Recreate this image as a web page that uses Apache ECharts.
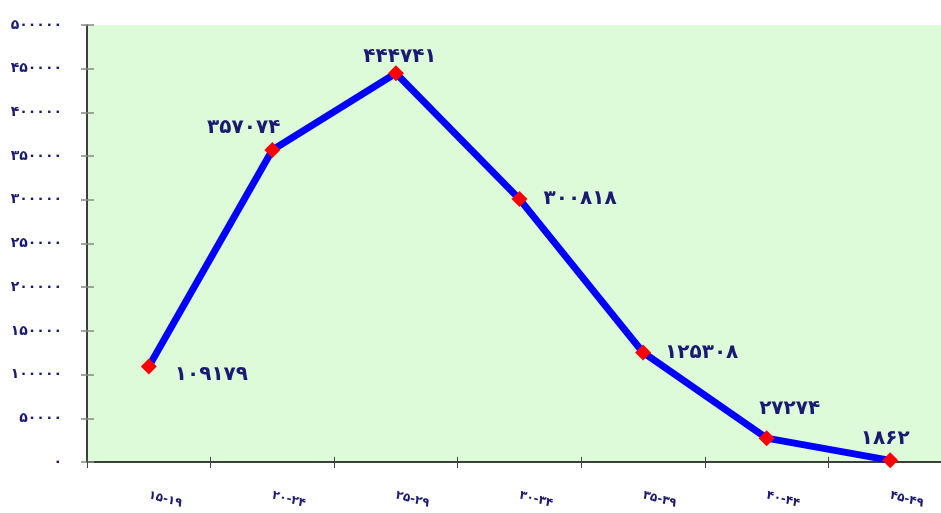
<!DOCTYPE html>
<html>
<head>
<meta charset="utf-8">
<script src="https://cdn.jsdelivr.net/npm/echarts@6/dist/echarts.min.js"></script>
<style>
  html, body { margin: 0; padding: 0; background: #fff; overflow: hidden; }
  #chart { width: 953px; height: 513px; }
</style>
</head>
<body>
<div id="chart"></div>
<script>
// گروه‌های سنی و مقادیر
const categories = ['۱۵-۱۹', '۲۰-۲۴', '۲۵-۲۹', '۳۰-۳۴', '۳۵-۳۹', '۴۰-۴۴', '۴۵-۴۹'];
const values = [109179, 357074, 444741, 300818, 125308, 27274, 1862];
const faDigits = '۰۱۲۳۴۵۶۷۸۹';

function toFa(n) {
    return String(n).replace(/[0-9]/g, d => faDigits[d]);
}

// label placement per point
const labelPos = [
    { position: 'right', distance: 18, offset: [0, 8] },
    { position: 'left', distance: -16, offset: [0, -22] },
    { position: 'top', distance: -2, offset: [4, 0] },
    { position: 'right', distance: 16, offset: [0, 0] },
    { position: 'right', distance: 14, offset: [0, 0] },
    { position: 'top', distance: 11, offset: [23, 0] },
    { position: 'top', distance: 4, offset: [-5, 0] }
];

const seriesData = values.map((v, i) => ({
    value: v,
    label: labelPos[i]
}));

const navy = '#1a1a72';
const myChart = echarts.init(document.getElementById('chart'));
myChart.setOption({
    animation: false,
    grid: {
        left: 87, right: 1, top: 25, bottom: 51,
        show: true, backgroundColor: '#ddfbd9', borderWidth: 0
    },
    xAxis: [{
        type: 'category',
        data: categories,
        boundaryGap: true,
        axisLine: { lineStyle: { color: '#000', width: 1.5 } },
        axisTick: { show: true, length: 6, lineStyle: { color: '#444' } },
        axisLabel: {
            rotate: -15, margin: 33, color: navy, fontSize: 12, fontWeight: 'bold',
            fontFamily: 'DejaVu Sans'
        },
        splitLine: { show: false }
    }, {
        type: 'category',
        data: categories,
        position: 'bottom',
        boundaryGap: true,
        axisLine: { show: false },
        axisTick: { show: true, inside: true, length: 5, lineStyle: { color: '#444' } },
        axisLabel: { show: false },
        splitLine: { show: false }
    }],
    yAxis: [{
        type: 'value',
        min: 0, max: 500000, interval: 50000,
        axisLine: { show: true, lineStyle: { color: '#000', width: 1.5 } },
        axisTick: { show: true, length: 6, lineStyle: { color: '#888', width: 1.5 } },
        axisLabel: {
            margin: 25, color: navy, fontSize: 14, fontWeight: 'bold',
            fontFamily: 'DejaVu Sans',
            padding: [0, 0, 7, 0],
            formatter: v => toFa(v)
        },
        splitLine: { show: false }
    }, {
        type: 'value',
        position: 'left',
        min: 0, max: 500000, interval: 50000,
        axisLine: { show: false },
        axisTick: { show: true, inside: true, length: 7, lineStyle: { color: '#888', width: 1.5 } },
        axisLabel: { show: false },
        splitLine: { show: false }
    }],
    series: [{
        type: 'line',
        data: seriesData,
        symbol: 'diamond',
        symbolSize: 16,
        itemStyle: { color: '#ff0000' },
        lineStyle: { color: '#0000ff', width: 7 },
        z: 5,
        label: {
            show: true,
            color: navy,
            fontSize: 20,
            fontWeight: 'bold',
            fontFamily: 'DejaVu Sans',
            formatter: p => toFa(p.value)
        }
    }]
});
</script>
</body>
</html>
